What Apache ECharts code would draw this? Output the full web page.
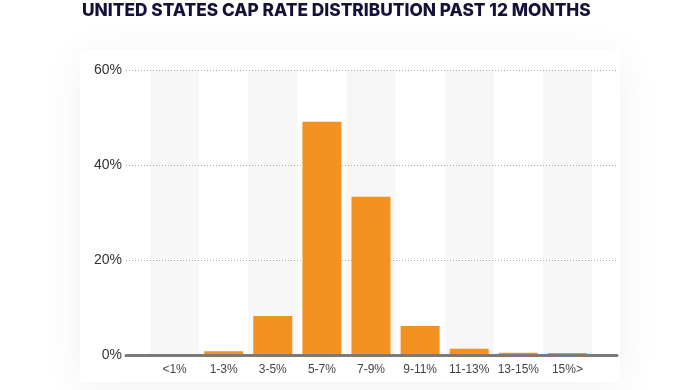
<!DOCTYPE html>
<html><head><meta charset="utf-8">
<script src="https://cdn.jsdelivr.net/npm/echarts@6/dist/echarts.min.js"></script>
<style>html,body{margin:0;padding:0;background:#fff}#c{width:700px;height:390px}</style>
</head><body><div id="c"></div>
<script>
var titleText = 'UNITED STATES CAP RATE DISTRIBUTION PAST 12 MONTHS';
var categories = ['<1%', '1-3%', '3-5%', '5-7%', '7-9%', '9-11%', '11-13%', '13-15%', '15%>'];
var shares = [0, 0.8, 8.2, 49.1, 33.3, 6.1, 1.3, 0.5, 0.4];
var yTicks = [0, 20, 40, 60];

var chart = echarts.init(document.getElementById('c'));
chart.setOption({
  animation: false,
  backgroundColor: '#fff',
  graphic: [
    {type: 'rect', z: -9, shape: {x: 80, y: 50, width: 540, height: 332},
     style: {fill: '#fff', shadowBlur: 40, shadowOffsetY: 6, shadowColor: 'rgba(0,0,0,0.06)'}}
  ],
  title: {
    text: titleText, left: 77, top: -3,
    textStyle: {fontFamily: 'Inter', fontWeight: 800, fontSize: 17.3, color: '#15123a'}
  },
  grid: [
    {left: 126, right: 83, top: 70, bottom: 35},
    {left: 150, right: 108, top: 70, bottom: 35}
  ],
  xAxis: [
    {gridIndex: 0, type: 'category', data: [''], boundaryGap: false,
     axisLine: {show: true, lineStyle: {color: '#7a7a7a', width: 3}},
     axisTick: {show: false}, axisLabel: {show: false}, splitLine: {show: false}, z: 3},
    {gridIndex: 1, type: 'category', data: categories,
     axisLine: {show: false}, axisTick: {show: false},
     axisLabel: {interval: 0, color: '#444', fontFamily: 'Liberation Sans', fontSize: 12, margin: 9},
     splitArea: {show: true, interval: 0, areaStyle: {color: ['#f7f7f7', 'rgba(255,255,255,0)']}}, z: 0}
  ],
  yAxis: [
    {gridIndex: 0, type: 'value', min: yTicks[0], max: yTicks[yTicks.length - 1], interval: 20,
     axisLine: {show: false}, axisTick: {show: false},
     axisLabel: {color: '#333', fontFamily: 'Liberation Sans', fontSize: 14, margin: 4,
                 formatter: function (v) { return v + '%'; }},
     splitLine: {show: true, lineStyle: {color: '#aaa', type: [1, 2], width: 1}}, z: 2},
    {gridIndex: 1, type: 'value', min: 0, max: 60, interval: 20, show: false}
  ],
  series: [{
    type: 'bar', xAxisIndex: 1, yAxisIndex: 1, data: shares,
    barWidth: 39, itemStyle: {color: '#f39220'}, z: 2
  }]
});
</script></body></html>
